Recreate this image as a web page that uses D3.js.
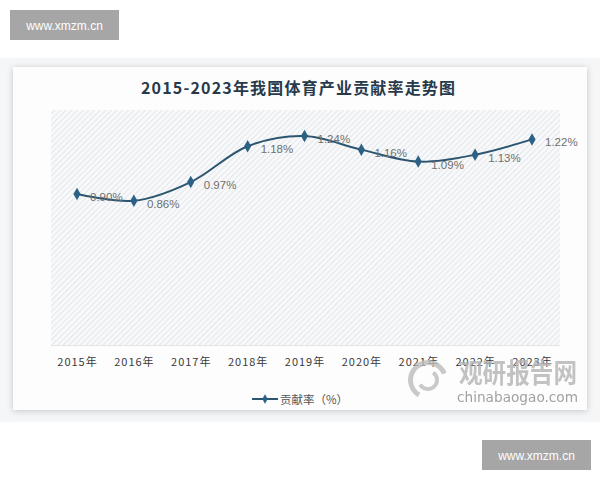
<!DOCTYPE html>
<html><head><meta charset="utf-8">
<script src="https://cdn.jsdelivr.net/npm/d3@7"></script>
<style>body{margin:0;background:#fff;}svg{display:block;}</style>
</head><body>
<svg id="c" width="600" height="480"></svg>
<script>
const title = "2015-2023年我国体育产业贡献率走势图";
const years = ["2015年","2016年","2017年","2018年","2019年","2020年","2021年","2022年","2023年"];
const values = [0.90,0.86,0.97,1.18,1.24,1.16,1.09,1.13,1.22];
const seriesName = "贡献率（%）";
const yDomain = [0, 1.4];

const svg = d3.select("#c");
const font = "'Noto Sans CJK SC','Noto Sans',sans-serif";
const defs = svg.append("defs");
const pat = defs.append("pattern").attr("id","hatch").attr("patternUnits","userSpaceOnUse")
  .attr("width",4).attr("height",4).attr("patternTransform","rotate(-45)");
pat.append("rect").attr("width",4).attr("height",4).attr("fill","#f9fafb");
pat.append("rect").attr("width",4).attr("height",1.3).attr("fill","#e6e9ec");
const f = defs.append("filter").attr("id","sh").attr("x","-5%").attr("y","-5%").attr("width","110%").attr("height","110%");
f.append("feDropShadow").attr("dx",0).attr("dy",1).attr("stdDeviation",3).attr("flood-color","#000").attr("flood-opacity",0.2);

// outer band + card
svg.append("rect").attr("x",0).attr("y",58).attr("width",600).attr("height",364).attr("fill","#f5f6f7");
svg.append("rect").attr("x",13).attr("y",67).attr("width",574).attr("height",343).attr("fill","#fdfdfd").attr("filter","url(#sh)");

// title
svg.append("text").attr("x",298).attr("y",94).attr("text-anchor","middle")
  .attr("font-family",font).attr("font-size",16).attr("font-weight","bold")
  .attr("fill","#283a4a").attr("textLength",314).attr("lengthAdjust","spacing").text(title);

const x = d3.scalePoint().domain(years).range([77,532]);
const y = d3.scaleLinear().domain(yDomain).range([347.5,108.7]);

// plot area
svg.append("rect").attr("x",51).attr("y",110).attr("width",509).attr("height",235).attr("fill","url(#hatch)");
svg.append("line").attr("x1",51).attr("x2",560).attr("y1",345.5).attr("y2",345.5).attr("stroke","#e2e4e6").attr("stroke-width",1);

// x axis
const xa = svg.append("g").attr("transform","translate(0,345)")
  .call(d3.axisBottom(x).tickSize(0).tickPadding(13));
xa.select(".domain").remove();
xa.selectAll("text").attr("font-family",font).attr("font-size",11).attr("fill","#3a3a3a")
  .attr("letter-spacing","1px");

// line
const data = years.map((d,i)=>({year:d,v:values[i]}));
const line = d3.line().x(d=>x(d.year)).y(d=>y(d.v)).curve(d3.curveCatmullRom.alpha(0.5));
svg.append("path").datum(data).attr("d",line).attr("fill","none").attr("stroke","#2b5570").attr("stroke-width",2);
const diamond = d3.symbol().type(d3.symbolDiamond).size(45);
svg.selectAll(".pt").data(data).join("path").attr("class","pt")
  .attr("transform",d=>`translate(${x(d.year)},${y(d.v)})`).attr("d",diamond).attr("fill","#2c6186");
svg.selectAll(".lb").data(data).join("text").attr("class","lb")
  .attr("x",d=>x(d.year)+13).attr("y",d=>y(d.v)+7)
  .attr("font-family","'Liberation Sans',Arial,sans-serif").attr("font-size",11.5).attr("fill","#707070")
  .text(d=>d.v.toFixed(2)+"%");

// legend
svg.append("line").attr("x1",252).attr("x2",278).attr("y1",399).attr("y2",399).attr("stroke","#2b5570").attr("stroke-width",2);
svg.append("path").attr("transform","translate(265,399)").attr("d",d3.symbol().type(d3.symbolDiamond).size(25)).attr("fill","#2c6186");
svg.append("text").attr("x",280).attr("y",403.5).attr("font-family",font).attr("font-size",11.5).attr("fill","#555")
  .text(seriesName);

// chinabaogao watermark
const wm = svg.append("g").attr("opacity",0.8);
const lg = wm.append("g").attr("transform","translate(428,380)");
lg.append("path").attr("d",d3.arc()({innerRadius:15,outerRadius:20,startAngle:-2.6,endAngle:1.2})).attr("fill","#bdbdbd");
lg.append("path").attr("d",d3.arc()({innerRadius:7,outerRadius:11,startAngle:0.6,endAngle:4.2})).attr("fill","#bdbdbd");
wm.append("text").attr("x",459).attr("y",383).attr("font-family",font).attr("font-size",27).attr("font-weight","bold")
  .attr("fill","#b4b4b4").attr("textLength",118).attr("lengthAdjust","spacingAndGlyphs").text("观研报告网");
wm.append("text").attr("x",457).attr("y",402).attr("font-family","'DejaVu Sans',sans-serif").attr("font-size",14.5)
  .attr("fill","#8a8a8a").attr("textLength",121).attr("lengthAdjust","spacingAndGlyphs").text("chinabaogao.com");

// corner watermarks
[[10,10],[482,440]].forEach(([bx,by])=>{
  svg.append("rect").attr("x",bx).attr("y",by).attr("width",109).attr("height",30).attr("fill","#a6a6a6");
  svg.append("text").attr("x",bx+54.5).attr("y",by+19.5).attr("text-anchor","middle")
    .attr("font-family","'Liberation Sans',Arial,sans-serif").attr("font-size",12).attr("fill","#fff").text("www.xmzm.cn");
});
</script>
</body></html>
